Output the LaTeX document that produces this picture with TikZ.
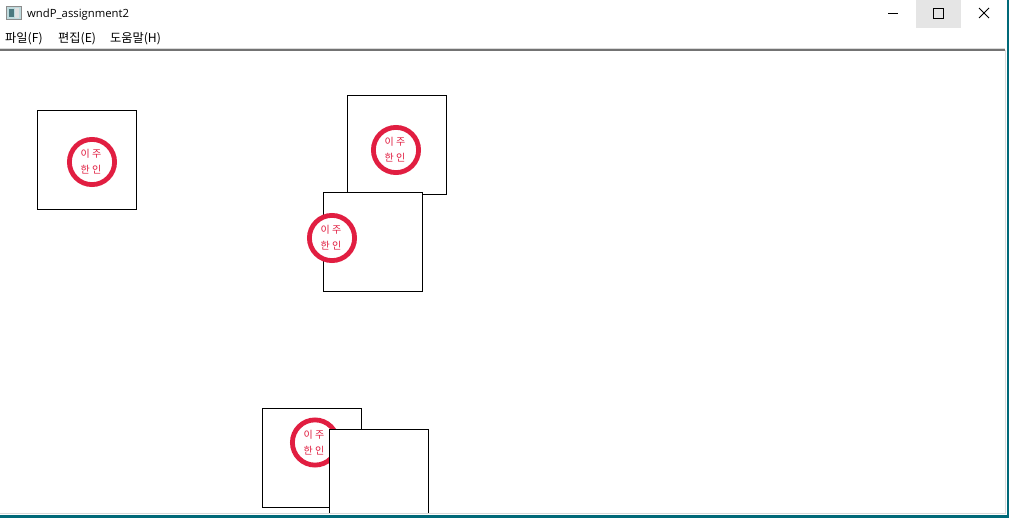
\documentclass[tikz,border=0pt]{standalone}
\usepackage{fontspec}
\setmainfont{Noto Sans CJK KR}
\newfontfamily\uifont{Open Sans}
\definecolor{stampred}{RGB}{225,30,65}
\definecolor{frameteal}{RGB}{0,105,120}
\definecolor{hoverbg}{RGB}{229,229,229}
\tikzset{
  x=1pt,y=-1pt,
  paper/.style={draw=black,line width=1pt,fill=white},
  stampring/.style={circle,draw=stampred,line width=4.8pt,fill=white,minimum size=45.2pt,inner sep=0pt},
  stamptext/.style={text=stampred,font=\fontsize{10}{10}\selectfont,inner sep=0pt},
  titletext/.style={anchor=base west,inner sep=0pt,font=\uifont\fontsize{11.3}{12}\selectfont},
  menutext/.style={anchor=base west,inner sep=0pt,font=\fontsize{12.2}{13}\selectfont},
  winglyph/.style={draw=black,line width=1pt}
}
\newcommand{\stamp}[3]{%
  \node[stampring] (#3) at (#1,#2) {};
  \node[stamptext] (#3a) at (#1-1,#2-8) {이 주};
  \node[stamptext] (#3b) at (#1-1,#2+8) {한 인};
}
\begin{document}
\begin{tikzpicture}
\useasboundingbox (0,0) rectangle (1009,518);
\fill[white] (0,0) rectangle (1009,518);
% title bar
\fill[hoverbg] (916,0) rectangle (961,28);
\fill[frameteal!25!white] (6,6.5) rectangle (21,19.5);
\fill[frameteal!60!black!70] (9,9) rectangle (14,17);
\fill[black!12] (15,8) rectangle (19,18);
\draw[black!45,line width=.6pt] (6,6.5) rectangle (21,19.5);
\node[titletext] (title) at (27,18) {wndP\_assignment2};
\node[menutext] (menua) at (5,42.8) {파일(F)};
\node[menutext] (menub) at (58,42.8) {편집(E)};
\node[menutext] (menuc) at (110,42.8) {도움말(H)};
\draw[winglyph] (888,13.5) -- (898,13.5);
\draw[winglyph] (933.5,8.5) rectangle (943.5,18.5);
\draw[winglyph] (979,8) -- (989,18) (989,8) -- (979,18);
\draw[black!55,line width=1.3pt] (0,50) -- (1005,50);
\draw[black!15,line width=1pt] (0,48.5) -- (1005,48.5);
% squares and stamps
\draw[paper] (37.5,110.5) rectangle (136.5,209.5);
\stamp{92}{162}{s1}
\draw[paper] (347.5,95.5) rectangle (446.5,194.5);
\stamp{396}{150}{s2}
\draw[paper] (323.5,192.5) rectangle (422.5,291.5);
\stamp{332}{238}{s3}
\draw[paper] (262.5,408.5) rectangle (361.5,507.5);
\stamp{315}{442.5}{s4}
\fill[white] (329.5,429.5) rectangle (428.5,513);
\draw[black,line width=1pt] (329.5,513) -- (329.5,429.5) -- (428.5,429.5) -- (428.5,513);
% window frame
\fill[white] (0,513) rectangle (1006,515);
\fill[black!15] (0,513.3) rectangle (1006,514.3);
\fill[black!15] (1005,50) rectangle (1006,514);
\fill[frameteal] (1006.5,0) rectangle (1009,518);
\fill[frameteal] (0,515) rectangle (1009,518);
\end{tikzpicture}
\end{document}
